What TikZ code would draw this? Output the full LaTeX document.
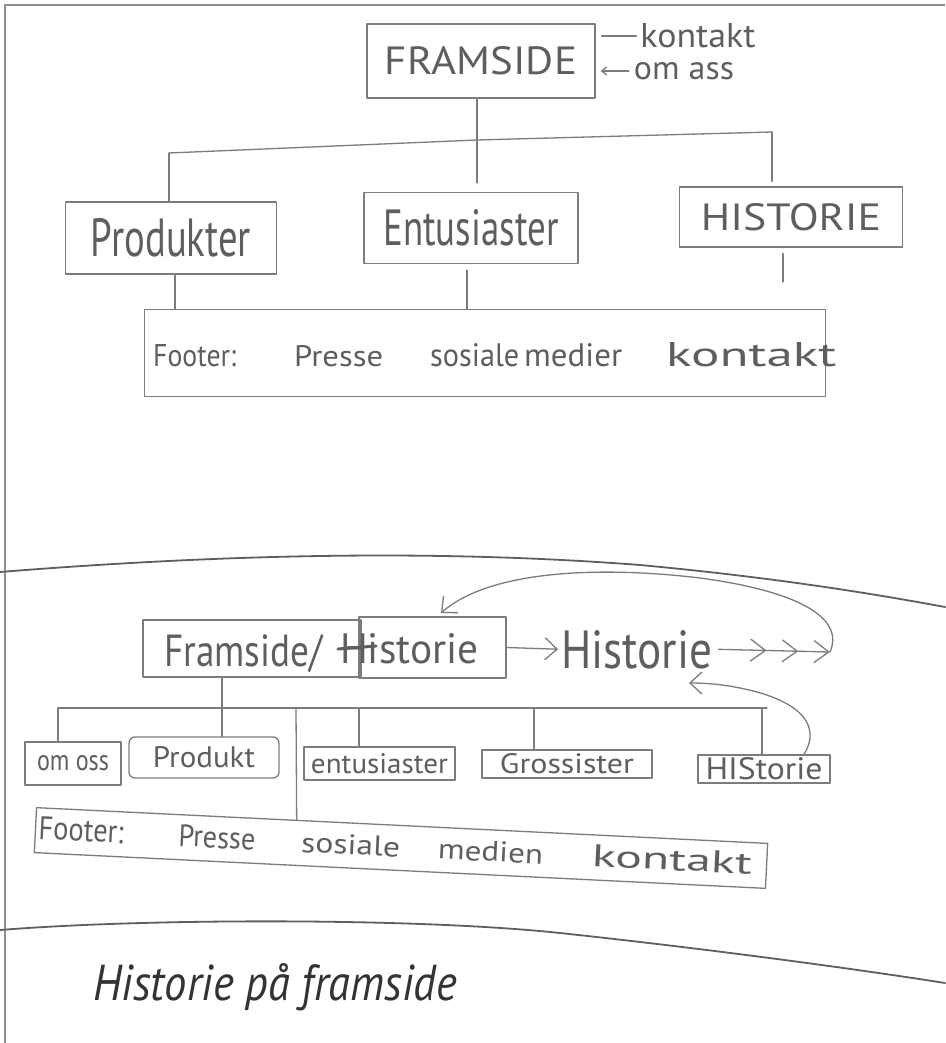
\documentclass[tikz,border=0pt]{standalone}
\usepackage{fontspec}
\setmainfont{PT Sans}
\usetikzlibrary{arrows.meta,calc}
\definecolor{pencil}{HTML}{7C7C7C}
\definecolor{lead}{HTML}{5E5E5E}
\definecolor{ink}{HTML}{333333}
\definecolor{framec}{HTML}{8E8E8E}
\newcommand\hw[3]{\resizebox{#1pt}{#2pt}{#3}}
\begin{document}
\begin{tikzpicture}[x=1pt,y=-1pt,
  line/.style={draw=pencil,line width=1.3pt,line cap=round,line join=round},
  divider/.style={draw=lead,line width=1.8pt,line cap=round},
  box/.style={line,rectangle,inner sep=0pt,text=lead},
  lbl/.style={inner sep=0pt,text=lead,anchor=base west},
  barb/.style={-{Straight Barb[length=12pt,width=22pt]}},
  smallbarb/.style={-{Straight Barb[length=5pt,width=8pt]}},
  triple/.style={-{Straight Barb[length=15pt,width=22pt,sep=15pt] Straight Barb[length=15pt,width=22pt,sep=15pt] Straight Barb[length=15pt,width=22pt]}},
]
\useasboundingbox (0,0) rectangle (945,1043);
\fill[white] (0,0) rectangle (945,1043);
\draw[framec,line width=2pt] (5,1043) -- (5,5) -- (945,5);

% ---------- top section ----------
\node[box,minimum width=228pt,minimum height=74pt] (fram) at (481,61) {\hw{192}{28}{FRAMSIDE}};
\node[inner sep=0pt,text=lead] (kontakt) at (698,36) {\hw{115}{24}{kontakt}};
\node[inner sep=0pt,text=lead] (omass) at (684,71) {\hw{100}{17}{om ass}};
\draw[line] ([xshift=6pt]fram.east |- kontakt.west) -- ([xshift=-4pt]kontakt.west);
\draw[line,smallbarb] ([xshift=-5pt]omass.west) -- ([xshift=5pt]fram.east |- omass.west);

\node[box,minimum width=211pt,minimum height=72pt] (prod) at (171,238) {\hw{160}{38}{Produkter}};
\node[box,minimum width=214pt,minimum height=71pt] (ent) at (471,228) {\hw{175}{36}{Entusiaster}};
\node[box,minimum width=223pt,minimum height=60pt] (hist) at (791,217) {\hw{180}{27}{HISTORIE}};

\coordinate (b1) at (169,153);
\coordinate (b2) at (477,140);
\coordinate (b3) at (772,132);
\draw[line] (b1) -- (b2) -- (b3);
\draw[line] (fram.south -| b2) -- (b2);
\draw[line] (b1) -- (b1 |- prod.north);
\draw[line,shorten >=9pt] (b2) -- (b2 |- ent.north);
\draw[line,shorten >=5pt] (b3) -- (b3 |- hist.north);

\node[box,minimum width=681pt,minimum height=87pt] (foot1) at (485,353) {};
\node[lbl] (f1a) at (153,366) {\hw{83}{22}{Footer:}};
\node[lbl] (f1b) at (294,366) {\hw{89}{21}{Presse}};
\node[lbl] (f1c) at (430,366) {\hw{89}{23}{sosiale}};
\node[lbl] (f1d) at (524,366) {\hw{98}{23}{medier}};
\node[lbl] (f1e) at (666,366) {\hw{170}{24}{kontakt}};

\coordinate (v1) at (175,0);
\coordinate (v2) at (467,0);
\coordinate (v3) at (783,0);
\draw[line] (v1 |- prod.south) -- (v1 |- foot1.north);
\draw[line,shorten <=6pt] (v2 |- ent.south) -- (v2 |- foot1.north);
\draw[line,shorten <=6pt,shorten >=27pt] (v3 |- hist.south) -- (v3 |- foot1.north);

% ---------- divider ----------
\draw[divider] (0,572) .. controls (200,556) and (420,548) .. (640,565) .. controls (780,578) and (880,595) .. (945,607);

% ---------- bottom section ----------
\node[box,minimum width=218pt,minimum height=57pt] (fs) at (252,648.5) {};
\node[box,minimum width=147pt,minimum height=61pt] (hs1) at (432.5,647.5) {};
\node[lbl] (fst) at (164,666) {\hw{158}{32}{Framside/}};
\node[lbl] (hst) at (340,663) {\hw{138}{30}{Historie}};
\draw[lead,line width=3pt,line cap=round] (338,649) -- (376,646);
\node[lbl] (histt) at (561,668) {\hw{151}{38}{Historie}};
\coordinate (gt) at (830,652);
\coordinate (ct) at (441,613);
\coordinate (ct2) at (689,683);
\draw[line,barb,shorten >=3pt] (hs1.east) -- (histt.west);
\draw[line,triple] ([xshift=6pt]histt.east) -- (gt);
\draw[line,barb] (gt) .. controls (846,615) and (790,590) .. (700,578) .. controls (600,566) and (490,570) .. (ct);

\node[box,minimum width=96pt,minimum height=43pt] (omoss) at (73,763.5) {\hw{72}{15}{om oss}};
\node[box,minimum width=150pt,minimum height=41pt,rounded corners=6pt] (prodb) at (204,757.5) {\hw{102}{21}{Produkt}};
\node[box,minimum width=151pt,minimum height=33pt] (entb) at (379.5,763.5) {\hw{137}{20}{entusiaster}};
\node[box,minimum width=170pt,minimum height=28pt] (gross) at (567,764) {\hw{134}{20}{Grossister}};
\node[box,minimum width=132pt,minimum height=28pt] (hsm) at (764,769) {\hw{117}{22}{HIStorie}};

\draw[line,barb] ($(hsm.north west)!0.8!(hsm.north east)$) .. controls (822,725) and (800,700) .. (740,688) .. controls (720,684) and (705,683) .. (ct2);

\begin{scope}[shift={(401,848)},rotate=-2.8,transform shape]
\node[box,minimum width=732pt,minimum height=45pt] (foot2) at (0,0) {};
\node[lbl] (f2a) at (-363,9) {\hw{85}{23}{Footer:}};
\node[lbl] (f2b) at (-223,9) {\hw{77}{22}{Presse}};
\node[lbl] (f2c) at (-100,9) {\hw{99}{20}{sosiale}};
\node[lbl] (f2d) at (37,9) {\hw{105}{20}{medien}};
\node[lbl] (f2e) at (191,9) {\hw{160}{22}{kontakt}};
\end{scope}

\coordinate (L) at (58,708);
\coordinate (R) at (767,708);
\coordinate (c222) at (222,708);
\coordinate (c296) at (296,708);
\coordinate (c359) at (359,708);
\coordinate (c534) at (534,708);
\coordinate (c762) at (762,708);
\draw[line] (L) -- (R);
\draw[line] (fs.south -| c222) -- (c222 |- prodb.north);
\draw[line] (L) -- (L |- omoss.north);
\draw[line] (c296) -- ($(foot2.north west)!0.356!(foot2.north east)$);
\draw[line] (c359) -- (c359 |- entb.north);
\draw[line] (c534) -- (c534 |- gross.north);
\draw[line] (c762) -- (c762 |- hsm.north);

% ---------- bottom divider and note ----------
\draw[divider] (0,930) .. controls (150,918) and (420,918) .. (560,933) .. controls (700,948) and (850,968) .. (945,983);
\node[lbl,text=ink] (note) at (93,1000) {\hw{364}{37}{\itshape Historie på framside}};
\end{tikzpicture}
\end{document}
